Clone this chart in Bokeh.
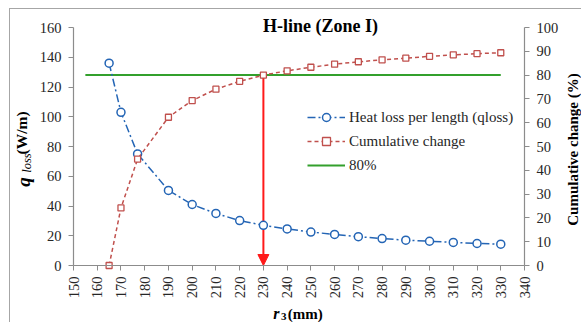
import math
from bokeh.plotting import figure
from bokeh.models import (Range1d, LinearAxis, FixedTicker, Label, Arrow,
                          NormalHead, Legend, LegendItem)
from bokeh.embed import file_html
from bokeh.resources import INLINE

# ---- data ----
r3 = [165, 170, 177, 190, 200, 210, 220, 230, 240, 250, 260, 270, 280, 290, 300, 310, 320, 330]
qloss = [136, 103, 75, 50.5, 41, 35, 30.2, 27, 24.6, 22.5, 20.9, 19.4, 18.1, 17.0, 16.3, 15.5, 14.8, 14.3]
cumulative = [0, 24.2, 44.7, 62.3, 69.3, 74.1, 77.4, 80.0, 81.8, 83.3, 84.6, 85.6, 86.4, 87.1, 87.9, 88.5, 89.0, 89.4]
green_x = [155, 330]
threshold_pct = 80
threshold_r3 = 230
x_ticks = list(range(150, 341, 10))
q_ticks = list(range(0, 161, 20))
pct_ticks = list(range(0, 101, 10))

FONT = "'Liberation Serif', 'Times New Roman', serif"
BLUE = "#2465b5"
RED = "#c0504d"
GREEN = "#33a02c"
ARROW = "#ff1a1a"
AX = "#8c8c8c"
TXT = "#262626"
BORDER = "#a6a6a6"

W, H = 581, 322
FL, FR, FT, FB = 73, 524, 27, 265     # pixel box of the axes
xs = (FR - FL) / (x_ticks[-1] - x_ticks[0])
ys = (FB - FT) / (q_ticks[-1] - q_ticks[0])
ps = (FB - FT) / (pct_ticks[-1] - pct_ticks[0])

x_range = Range1d(x_ticks[0] - FL / xs, x_ticks[-1] + (W - FR) / xs)
y_range = Range1d(q_ticks[0] - (H - FB) / ys, q_ticks[-1] + FT / ys)
pct_range = Range1d(pct_ticks[0] - (H - FB) / ps, pct_ticks[-1] + FT / ps)

p = figure(width=W, height=H, output_backend="svg", toolbar_location=None,
           x_range=x_range, y_range=y_range,
           x_axis_location=None, y_axis_location=None,
           min_border=0, min_border_left=0, min_border_right=0,
           min_border_top=0, min_border_bottom=0)
p.border_fill_color = None
p.background_fill_color = None
p.styles = {
    "background-color": "white",
    "background-image": f"linear-gradient({BORDER},{BORDER}), linear-gradient({BORDER},{BORDER})",
    "background-size": "100% 1px, 1px 100%",
    "background-position": "9px 8px, 9px 8px",
    "background-repeat": "no-repeat",
}
p.xgrid.visible = False
p.ygrid.visible = False
p.outline_line_color = None
p.extra_y_ranges = {"pct": pct_range}

xaxis = LinearAxis(fixed_location=q_ticks[0], bounds=(x_ticks[0], x_ticks[-1]),
                   ticker=FixedTicker(ticks=x_ticks))
yaxis = LinearAxis(fixed_location=x_ticks[0], bounds=(q_ticks[0], q_ticks[-1]),
                   ticker=FixedTicker(ticks=q_ticks))
right = LinearAxis(y_range_name="pct", fixed_location=x_ticks[-1],
                   bounds=(pct_ticks[0], pct_ticks[-1]),
                   ticker=FixedTicker(ticks=pct_ticks))
p.add_layout(xaxis, "below")
p.add_layout(yaxis, "left")
p.add_layout(right, "right")

for ax in [xaxis, yaxis, right]:
    ax.axis_line_color = AX
    ax.axis_line_width = 1.2
    ax.major_tick_line_color = AX
    ax.minor_tick_line_color = None
    ax.major_tick_out = 5
    ax.major_tick_in = 0
    ax.major_label_text_font = FONT
    ax.major_label_text_font_size = "14.5px"
    ax.major_label_text_color = TXT
    ax.major_label_standoff = 7
xaxis.major_label_orientation = math.pi / 2
xaxis.major_label_standoff = 6

# ---- glyphs ----
green = p.line(green_x, [threshold_pct, threshold_pct], y_range_name="pct",
               line_color=GREEN, line_width=2)
arrow = Arrow(end=NormalHead(size=11, fill_color=ARROW, line_color=ARROW),
              x_start=threshold_r3, y_start=threshold_pct,
              x_end=threshold_r3, y_end=pct_ticks[0], y_range_name="pct",
              line_color=ARROW, line_width=2, level="underlay")
p.add_layout(arrow)

blue_line = p.line(r3, qloss, line_color=BLUE, line_width=1.5, line_dash="8 3 2 3")
blue_pts = p.scatter(r3, qloss, marker="circle", size=8, line_color=BLUE,
                     fill_color="white", line_width=1.5)
red_line = p.line(r3, cumulative, y_range_name="pct", line_color=RED,
                  line_width=1.5, line_dash="4 3")
red_pts = p.scatter(r3, cumulative, y_range_name="pct", marker="square", size=6,
                    line_color=RED, fill_color="white", line_width=1.3)

legend = Legend(items=[
    LegendItem(label="Heat loss per length (qloss)", renderers=[blue_line, blue_pts]),
    LegendItem(label="Cumulative change", renderers=[red_line, red_pts]),
    LegendItem(label="80%", renderers=[green]),
], location=(307, 147), padding=0, margin=0, spacing=4, glyph_width=38,
    glyph_height=20, label_height=20, label_standoff=4,
    label_text_font=FONT, label_text_font_size="15px", label_text_color=TXT,
    background_fill_alpha=0, border_line_color=None)
p.add_layout(legend)

# ---- texts ----
def lab(x, y, text, size, style="bold", angle=0, align="left", rng="default"):
    p.add_layout(Label(x=x, y=y, text=text, y_range_name=rng,
                       text_font=FONT, text_font_size=size, text_font_style=style,
                       text_color="#000000", angle=angle, text_align=align,
                       text_baseline="middle"))

lab(254.1, 160.7, "H-line (Zone I)", "18px", align="center")
# left axis title: q_loss (W/m)  (rotated pieces, centre-anchored)
lab(129.0, 56.1, "q", "19px", style="bold italic", angle=math.pi / 2, align="center")
lab(130.6, 68.9, "loss", "12.5px", style="italic", angle=math.pi / 2, align="center")
lab(128.3, 89.1, "(W/m)", "15.5px", angle=math.pi / 2, align="center")
# right axis title
lab(360.6, 78, "Cumulative change (%)", "15px", angle=math.pi / 2, align="center")
# x axis title: r3 (mm)
lab(234.2, -32.3, "r", "16px", style="bold italic")
lab(237.4, -34.5, "3", "11px")
lab(240.3, -32.3, "(mm)", "15px")

open("out.html", "w").write(file_html(p, INLINE))
